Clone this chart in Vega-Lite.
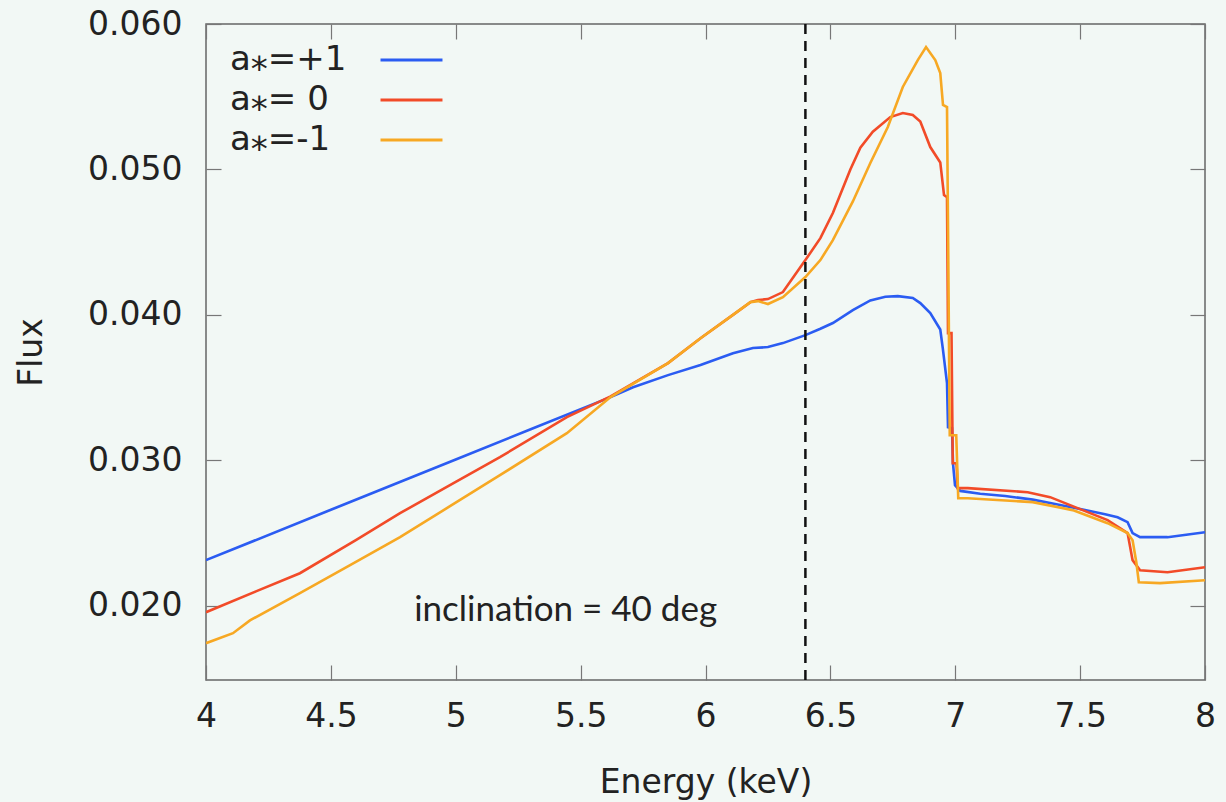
{
  "$schema": "https://vega.github.io/schema/vega-lite/v6.json",
  "width": 999,
  "height": 656,
  "autosize": {"type": "none"},
  "padding": {"left": 206, "top": 24, "right": 21, "bottom": 122},
  "background": "#f2f8f5",
  "config": {
    "view": {"stroke": "#666666", "strokeWidth": 1.5},
    "font": "DejaVu Sans",
    "axis": {
      "grid": false,
      "domain": false,
      "ticks": true,
      "tickSize": -15,
      "tickColor": "#777777",
      "tickWidth": 1.2,
      "labelFont": "DejaVu Sans",
      "labelFontSize": 33,
      "labelColor": "#222222",
      "titleFont": "DejaVu Sans",
      "titleFontSize": 33,
      "titleFontWeight": "normal",
      "titleColor": "#222222"
    }
  },
  "datasets": {
    "spectra": [
      {"E": 4.0, "flux": 0.02314, "spin": "a⁎=+1"},
      {"E": 4.5, "flux": 0.02660, "spin": "a⁎=+1"},
      {"E": 5.0, "flux": 0.03006, "spin": "a⁎=+1"},
      {"E": 5.3, "flux": 0.03214, "spin": "a⁎=+1"},
      {"E": 5.62, "flux": 0.03435, "spin": "a⁎=+1"},
      {"E": 5.71, "flux": 0.03503, "spin": "a⁎=+1"},
      {"E": 5.85, "flux": 0.03586, "spin": "a⁎=+1"},
      {"E": 5.98, "flux": 0.03655, "spin": "a⁎=+1"},
      {"E": 6.11, "flux": 0.03737, "spin": "a⁎=+1"},
      {"E": 6.19, "flux": 0.03772, "spin": "a⁎=+1"},
      {"E": 6.25, "flux": 0.03779, "spin": "a⁎=+1"},
      {"E": 6.31, "flux": 0.03806, "spin": "a⁎=+1"},
      {"E": 6.40, "flux": 0.03861, "spin": "a⁎=+1"},
      {"E": 6.46, "flux": 0.03905, "spin": "a⁎=+1"},
      {"E": 6.51, "flux": 0.03944, "spin": "a⁎=+1"},
      {"E": 6.59, "flux": 0.04033, "spin": "a⁎=+1"},
      {"E": 6.66, "flux": 0.04100, "spin": "a⁎=+1"},
      {"E": 6.72, "flux": 0.04125, "spin": "a⁎=+1"},
      {"E": 6.77, "flux": 0.04129, "spin": "a⁎=+1"},
      {"E": 6.83, "flux": 0.04116, "spin": "a⁎=+1"},
      {"E": 6.86, "flux": 0.04081, "spin": "a⁎=+1"},
      {"E": 6.90, "flux": 0.04012, "spin": "a⁎=+1"},
      {"E": 6.94, "flux": 0.03900, "spin": "a⁎=+1"},
      {"E": 6.95, "flux": 0.03772, "spin": "a⁎=+1"},
      {"E": 6.967, "flux": 0.03531, "spin": "a⁎=+1"},
      {"E": 6.971, "flux": 0.03228, "spin": "a⁎=+1"},
      {"E": 6.987, "flux": 0.03221, "spin": "a⁎=+1"},
      {"E": 6.991, "flux": 0.02978, "spin": "a⁎=+1"},
      {"E": 6.999, "flux": 0.02829, "spin": "a⁎=+1"},
      {"E": 7.02, "flux": 0.02790, "spin": "a⁎=+1"},
      {"E": 7.1, "flux": 0.02770, "spin": "a⁎=+1"},
      {"E": 7.2, "flux": 0.02755, "spin": "a⁎=+1"},
      {"E": 7.31, "flux": 0.02730, "spin": "a⁎=+1"},
      {"E": 7.4, "flux": 0.02700, "spin": "a⁎=+1"},
      {"E": 7.51, "flux": 0.02662, "spin": "a⁎=+1"},
      {"E": 7.60, "flux": 0.02630, "spin": "a⁎=+1"},
      {"E": 7.65, "flux": 0.02609, "spin": "a⁎=+1"},
      {"E": 7.69, "flux": 0.02575, "spin": "a⁎=+1"},
      {"E": 7.71, "flux": 0.02500, "spin": "a⁎=+1"},
      {"E": 7.74, "flux": 0.02472, "spin": "a⁎=+1"},
      {"E": 7.85, "flux": 0.02472, "spin": "a⁎=+1"},
      {"E": 8.0, "flux": 0.02506, "spin": "a⁎=+1"},

      {"E": 4.0, "flux": 0.01956, "spin": "a⁎= 0"},
      {"E": 4.2, "flux": 0.02099, "spin": "a⁎= 0"},
      {"E": 4.376, "flux": 0.02224, "spin": "a⁎= 0"},
      {"E": 4.6, "flux": 0.02452, "spin": "a⁎= 0"},
      {"E": 4.777, "flux": 0.02637, "spin": "a⁎= 0"},
      {"E": 5.0, "flux": 0.02852, "spin": "a⁎= 0"},
      {"E": 5.177, "flux": 0.03022, "spin": "a⁎= 0"},
      {"E": 5.445, "flux": 0.03297, "spin": "a⁎= 0"},
      {"E": 5.62, "flux": 0.03440, "spin": "a⁎= 0"},
      {"E": 5.85, "flux": 0.03669, "spin": "a⁎= 0"},
      {"E": 5.98, "flux": 0.03840, "spin": "a⁎= 0"},
      {"E": 6.11, "flux": 0.04000, "spin": "a⁎= 0"},
      {"E": 6.18, "flux": 0.04088, "spin": "a⁎= 0"},
      {"E": 6.21, "flux": 0.04102, "spin": "a⁎= 0"},
      {"E": 6.25, "flux": 0.04109, "spin": "a⁎= 0"},
      {"E": 6.31, "flux": 0.04157, "spin": "a⁎= 0"},
      {"E": 6.40, "flux": 0.04377, "spin": "a⁎= 0"},
      {"E": 6.46, "flux": 0.04528, "spin": "a⁎= 0"},
      {"E": 6.51, "flux": 0.04700, "spin": "a⁎= 0"},
      {"E": 6.58, "flux": 0.05000, "spin": "a⁎= 0"},
      {"E": 6.62, "flux": 0.05150, "spin": "a⁎= 0"},
      {"E": 6.67, "flux": 0.05260, "spin": "a⁎= 0"},
      {"E": 6.74, "flux": 0.05360, "spin": "a⁎= 0"},
      {"E": 6.79, "flux": 0.05388, "spin": "a⁎= 0"},
      {"E": 6.83, "flux": 0.05374, "spin": "a⁎= 0"},
      {"E": 6.86, "flux": 0.05330, "spin": "a⁎= 0"},
      {"E": 6.90, "flux": 0.05154, "spin": "a⁎= 0"},
      {"E": 6.94, "flux": 0.05048, "spin": "a⁎= 0"},
      {"E": 6.955, "flux": 0.04824, "spin": "a⁎= 0"},
      {"E": 6.967, "flux": 0.04810, "spin": "a⁎= 0"},
      {"E": 6.971, "flux": 0.03875, "spin": "a⁎= 0"},
      {"E": 6.985, "flux": 0.03875, "spin": "a⁎= 0"},
      {"E": 6.990, "flux": 0.02980, "spin": "a⁎= 0"},
      {"E": 7.005, "flux": 0.02980, "spin": "a⁎= 0"},
      {"E": 7.01, "flux": 0.02809, "spin": "a⁎= 0"},
      {"E": 7.05, "flux": 0.02809, "spin": "a⁎= 0"},
      {"E": 7.29, "flux": 0.02781, "spin": "a⁎= 0"},
      {"E": 7.38, "flux": 0.02747, "spin": "a⁎= 0"},
      {"E": 7.51, "flux": 0.02658, "spin": "a⁎= 0"},
      {"E": 7.61, "flux": 0.02589, "spin": "a⁎= 0"},
      {"E": 7.69, "flux": 0.02500, "spin": "a⁎= 0"},
      {"E": 7.71, "flux": 0.02314, "spin": "a⁎= 0"},
      {"E": 7.74, "flux": 0.02245, "spin": "a⁎= 0"},
      {"E": 7.85, "flux": 0.02231, "spin": "a⁎= 0"},
      {"E": 8.0, "flux": 0.02265, "spin": "a⁎= 0"},

      {"E": 4.0, "flux": 0.01743, "spin": "a⁎=-1"},
      {"E": 4.108, "flux": 0.01812, "spin": "a⁎=-1"},
      {"E": 4.176, "flux": 0.01900, "spin": "a⁎=-1"},
      {"E": 4.376, "flux": 0.02087, "spin": "a⁎=-1"},
      {"E": 4.577, "flux": 0.02280, "spin": "a⁎=-1"},
      {"E": 4.777, "flux": 0.02472, "spin": "a⁎=-1"},
      {"E": 4.977, "flux": 0.02685, "spin": "a⁎=-1"},
      {"E": 5.177, "flux": 0.02898, "spin": "a⁎=-1"},
      {"E": 5.445, "flux": 0.03187, "spin": "a⁎=-1"},
      {"E": 5.62, "flux": 0.03435, "spin": "a⁎=-1"},
      {"E": 5.85, "flux": 0.03669, "spin": "a⁎=-1"},
      {"E": 5.98, "flux": 0.03840, "spin": "a⁎=-1"},
      {"E": 6.11, "flux": 0.04000, "spin": "a⁎=-1"},
      {"E": 6.18, "flux": 0.04088, "spin": "a⁎=-1"},
      {"E": 6.21, "flux": 0.04095, "spin": "a⁎=-1"},
      {"E": 6.25, "flux": 0.04075, "spin": "a⁎=-1"},
      {"E": 6.31, "flux": 0.04122, "spin": "a⁎=-1"},
      {"E": 6.40, "flux": 0.04260, "spin": "a⁎=-1"},
      {"E": 6.46, "flux": 0.04377, "spin": "a⁎=-1"},
      {"E": 6.51, "flux": 0.04514, "spin": "a⁎=-1"},
      {"E": 6.59, "flux": 0.04780, "spin": "a⁎=-1"},
      {"E": 6.66, "flux": 0.05044, "spin": "a⁎=-1"},
      {"E": 6.73, "flux": 0.05292, "spin": "a⁎=-1"},
      {"E": 6.79, "flux": 0.05567, "spin": "a⁎=-1"},
      {"E": 6.85, "flux": 0.05752, "spin": "a⁎=-1"},
      {"E": 6.883, "flux": 0.05842, "spin": "a⁎=-1"},
      {"E": 6.92, "flux": 0.05752, "spin": "a⁎=-1"},
      {"E": 6.94, "flux": 0.05663, "spin": "a⁎=-1"},
      {"E": 6.951, "flux": 0.05443, "spin": "a⁎=-1"},
      {"E": 6.967, "flux": 0.05429, "spin": "a⁎=-1"},
      {"E": 6.978, "flux": 0.03173, "spin": "a⁎=-1"},
      {"E": 7.004, "flux": 0.03173, "spin": "a⁎=-1"},
      {"E": 7.012, "flux": 0.02740, "spin": "a⁎=-1"},
      {"E": 7.05, "flux": 0.02740, "spin": "a⁎=-1"},
      {"E": 7.31, "flux": 0.02713, "spin": "a⁎=-1"},
      {"E": 7.47, "flux": 0.02658, "spin": "a⁎=-1"},
      {"E": 7.61, "flux": 0.02568, "spin": "a⁎=-1"},
      {"E": 7.69, "flux": 0.02500, "spin": "a⁎=-1"},
      {"E": 7.71, "flux": 0.02451, "spin": "a⁎=-1"},
      {"E": 7.725, "flux": 0.02300, "spin": "a⁎=-1"},
      {"E": 7.735, "flux": 0.02162, "spin": "a⁎=-1"},
      {"E": 7.82, "flux": 0.02156, "spin": "a⁎=-1"},
      {"E": 8.0, "flux": 0.02176, "spin": "a⁎=-1"}
    ]
  },
  "layer": [
    {
      "data": {"name": "spectra"},
      "mark": {"type": "line", "strokeWidth": 2.6, "clip": true},
      "encoding": {
        "x": {
          "field": "E", "type": "quantitative",
          "scale": {"domain": [4, 8], "nice": false, "zero": false},
          "axis": {"orient": "bottom", "values": [4, 4.5, 5, 5.5, 6, 6.5, 7, 7.5, 8], "format": "~g", "labelPadding": 35, "title": "Energy (keV)", "titlePadding": 33, "labelFlush": false}
        },
        "y": {
          "field": "flux", "type": "quantitative",
          "scale": {"domain": [0.0149, 0.060], "nice": false, "zero": false},
          "axis": {"orient": "left", "values": [0.02, 0.03, 0.04, 0.05, 0.06], "format": ".3f", "labelPadding": 39, "title": "Flux", "titlePadding": 39}
        },
        "color": {
          "field": "spin", "type": "nominal",
          "scale": {"domain": ["a⁎=+1", "a⁎= 0", "a⁎=-1"], "range": ["#2b5cf2", "#f24b28", "#f7a823"]},
          "legend": {
            "orient": "none", "legendX": 24, "legendY": 19,
            "title": null, "padding": 0,
            "symbolType": "M-4,0H4", "symbolSize": 240, "symbolStrokeWidth": 3,
            "symbolOffset": 164.5, "labelOffset": -198.5,
            "labelFont": "DejaVu Sans", "labelFontSize": 34, "labelColor": "#222222",
            "labelAlign": "left", "labelLimit": 300,
            "rowPadding": 6
          }
        },
        "order": {"field": "E", "type": "quantitative"}
      }
    },
    {
      "data": {"values": [{}]},
      "mark": {"type": "rule", "color": "#111111", "strokeWidth": 2.5, "strokeDash": [10, 7]},
      "encoding": {
        "x": {"datum": 6.4, "type": "quantitative", "scale": {"domain": [4, 8], "nice": false, "zero": false},
          "axis": {"orient": "top", "values": [4, 4.5, 5, 5.5, 6, 6.5, 7, 7.5, 8], "labels": false, "title": null}}
      }
    },
    {
      "data": {"values": [{}]},
      "mark": {"type": "text", "font": "Lato", "fontSize": 35, "color": "#222222", "align": "center", "baseline": "middle"},
      "encoding": {
        "x": {"datum": 5.44, "type": "quantitative", "scale": {"domain": [4, 8], "nice": false, "zero": false}, "axis": null},
        "y": {"datum": 0.0197, "type": "quantitative", "scale": {"domain": [0.0149, 0.060], "nice": false, "zero": false},
          "axis": {"orient": "right", "values": [0.02, 0.03, 0.04, 0.05, 0.06], "labels": false, "title": null}},
        "text": {"value": "inclination = 40 deg"}
      }
    }
  ],
  "resolve": {"axis": {"x": "independent", "y": "independent"}}
}
